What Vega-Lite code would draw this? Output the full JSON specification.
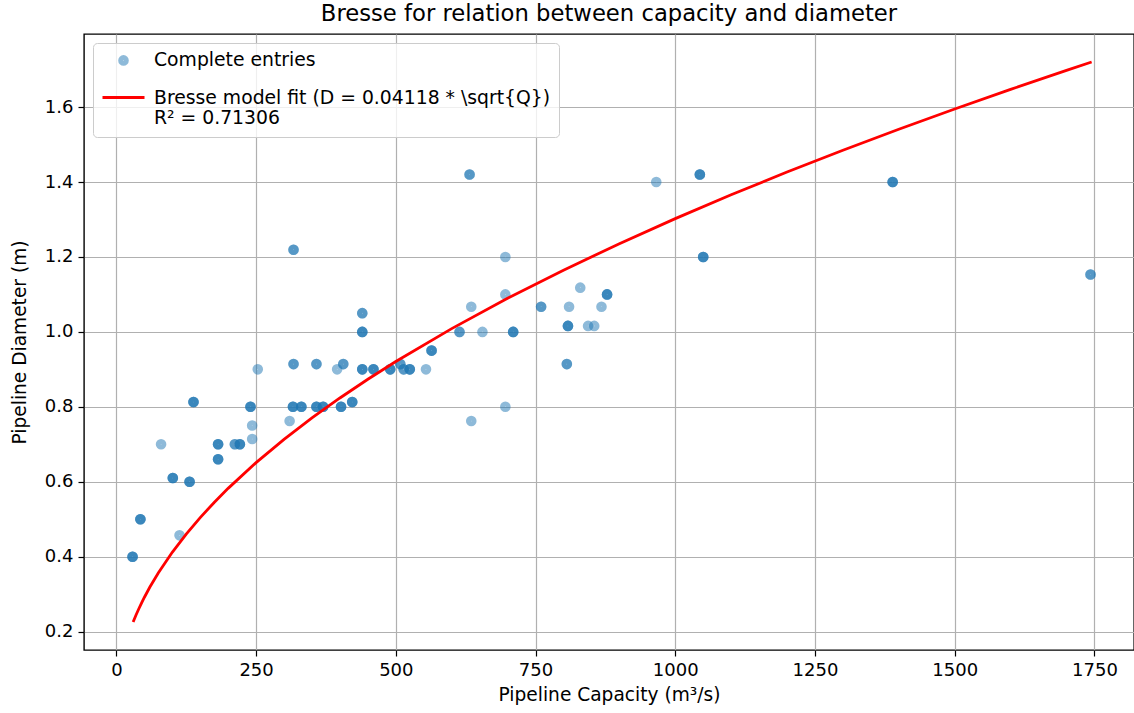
{
  "$schema": "https://vega.github.io/schema/vega-lite/v6.json",
  "width": 1050,
  "height": 616,
  "autosize": {"type": "none"},
  "padding": {"left": 84, "top": 34, "right": 0, "bottom": 63},
  "background": "white",
  "title": {"text": "Bresse for relation between capacity and diameter", "fontSize": 22.7, "font": "DejaVu Sans", "fontWeight": "normal", "color": "black", "offset": 8, "anchor": "middle"},
  "config": {
    "font": "DejaVu Sans",
    "view": {"stroke": "black", "strokeWidth": 1.4},
    "axis": {"grid": true, "gridColor": "#b0b0b0", "gridWidth": 1.2, "domain": false, "tickColor": "black", "tickSize": 6, "tickWidth": 1.2, "labelFontSize": 18, "labelColor": "black", "labelPadding": 5, "titleFontSize": 18.6, "titleFontWeight": "normal", "titleColor": "black", "labelFont": "DejaVu Sans", "titleFont": "DejaVu Sans"},
    "legend": {"title": null, "orient": "top-left", "offset": 9, "padding": 8, "rowPadding": -7, "labelFontSize": 18.8, "labelColor": "black", "labelFont": "DejaVu Sans", "labelLimit": 800, "labelOffset": 8, "fillColor": "rgba(255,255,255,0.8)", "strokeColor": "#cccccc", "cornerRadius": 4}
  },
  "datasets": {
    "points": [
      {"q":29,"d":0.40},{"q":29,"d":0.40},{"q":29,"d":0.40},
      {"q":43,"d":0.50},{"q":43,"d":0.50},{"q":43,"d":0.50},
      {"q":80,"d":0.70},
      {"q":101,"d":0.61},{"q":101,"d":0.61},{"q":101,"d":0.61},
      {"q":113,"d":0.457},
      {"q":131,"d":0.60},{"q":131,"d":0.60},{"q":131,"d":0.60},
      {"q":138,"d":0.813},{"q":138,"d":0.813},{"q":138,"d":0.813},
      {"q":182,"d":0.70},{"q":182,"d":0.70},{"q":182,"d":0.70},
      {"q":182,"d":0.66},{"q":182,"d":0.66},{"q":182,"d":0.66},
      {"q":212,"d":0.70},{"q":212,"d":0.70},
      {"q":221,"d":0.70},{"q":221,"d":0.70},{"q":221,"d":0.70},
      {"q":240,"d":0.80},{"q":240,"d":0.80},{"q":240,"d":0.80},
      {"q":243,"d":0.75},
      {"q":243,"d":0.714},
      {"q":253,"d":0.90},
      {"q":310,"d":0.762},
      {"q":317,"d":0.914},{"q":317,"d":0.914},
      {"q":317,"d":1.219},{"q":317,"d":1.219},
      {"q":316,"d":0.80},{"q":316,"d":0.80},{"q":316,"d":0.80},
      {"q":331,"d":0.80},{"q":331,"d":0.80},{"q":331,"d":0.80},
      {"q":358,"d":0.914},{"q":358,"d":0.914},
      {"q":358,"d":0.80},{"q":358,"d":0.80},{"q":358,"d":0.80},
      {"q":370,"d":0.80},{"q":370,"d":0.80},{"q":370,"d":0.80},
      {"q":395,"d":0.90},
      {"q":402,"d":0.80},{"q":402,"d":0.80},{"q":402,"d":0.80},
      {"q":406,"d":0.914},{"q":406,"d":0.914},
      {"q":422,"d":0.813},{"q":422,"d":0.813},{"q":422,"d":0.813},
      {"q":440,"d":1.05},{"q":440,"d":1.05},
      {"q":440,"d":1.0},{"q":440,"d":1.0},{"q":440,"d":1.0},
      {"q":440,"d":0.90},{"q":440,"d":0.90},{"q":440,"d":0.90},
      {"q":460,"d":0.90},{"q":460,"d":0.90},{"q":460,"d":0.90},
      {"q":490,"d":0.90},{"q":490,"d":0.90},{"q":490,"d":0.90},
      {"q":508,"d":0.914},{"q":508,"d":0.914},
      {"q":514,"d":0.90},{"q":514,"d":0.90},
      {"q":525,"d":0.90},{"q":525,"d":0.90},{"q":525,"d":0.90},
      {"q":554,"d":0.90},
      {"q":564,"d":0.95},{"q":564,"d":0.95},{"q":564,"d":0.95},
      {"q":614,"d":1.0},{"q":614,"d":1.0},
      {"q":632,"d":1.42},{"q":632,"d":1.42},
      {"q":635,"d":1.067},
      {"q":635,"d":0.762},
      {"q":655,"d":1.0},
      {"q":696,"d":1.20},
      {"q":696,"d":1.10},
      {"q":696,"d":0.80},
      {"q":710,"d":1.0},{"q":710,"d":1.0},{"q":710,"d":1.0},
      {"q":760,"d":1.067},{"q":760,"d":1.067},
      {"q":808,"d":1.016},{"q":808,"d":1.016},{"q":808,"d":1.016},
      {"q":810,"d":1.067},
      {"q":806,"d":0.914},{"q":806,"d":0.914},
      {"q":830,"d":1.118},
      {"q":844,"d":1.016},
      {"q":855,"d":1.016},
      {"q":868,"d":1.067},
      {"q":878,"d":1.10},{"q":878,"d":1.10},{"q":878,"d":1.10},
      {"q":966,"d":1.40},
      {"q":1044,"d":1.42},{"q":1044,"d":1.42},{"q":1044,"d":1.42},
      {"q":1050,"d":1.20},{"q":1050,"d":1.20},{"q":1050,"d":1.20},
      {"q":1389,"d":1.40},{"q":1389,"d":1.40},{"q":1389,"d":1.40},
      {"q":1743,"d":1.153},{"q":1743,"d":1.153}
    ],
    "curve": [
      {"q":30,"d":0.2256},{"q":35,"d":0.2436},{"q":40,"d":0.2604},{"q":45,"d":0.2762},
      {"q":50,"d":0.2912},{"q":60,"d":0.3190},{"q":75,"d":0.3566},{"q":100,"d":0.4118},
      {"q":125,"d":0.4604},{"q":150,"d":0.5043},{"q":175,"d":0.5448},{"q":200,"d":0.5824},
      {"q":250,"d":0.6511},{"q":300,"d":0.7133},{"q":350,"d":0.7704},{"q":400,"d":0.8236},
      {"q":450,"d":0.8736},{"q":500,"d":0.9208},{"q":600,"d":1.0087},{"q":700,"d":1.0895},
      {"q":800,"d":1.1647},{"q":900,"d":1.2354},{"q":1000,"d":1.3022},{"q":1100,"d":1.3658},
      {"q":1200,"d":1.4265},{"q":1300,"d":1.4848},{"q":1400,"d":1.5408},{"q":1500,"d":1.5949},
      {"q":1600,"d":1.6472},{"q":1700,"d":1.6979},{"q":1745,"d":1.7202}
    ]
  },
  "encoding": {
    "x": {"field": "q", "type": "quantitative", "scale": {"domain": [-57.9, 1820.8], "nice": false, "zero": false}, "axis": {"values": [0, 250, 500, 750, 1000, 1250, 1500, 1750], "format": "d", "title": "Pipeline Capacity (m³/s)", "titlePadding": 6}},
    "y": {"field": "d", "type": "quantitative", "scale": {"domain": [0.151, 1.795], "nice": false, "zero": false}, "axis": {"values": [0.2, 0.4, 0.6, 0.8, 1.0, 1.2, 1.4, 1.6], "format": ".1f", "title": "Pipeline Diameter (m)", "titlePadding": 15}}
  },
  "layer": [
    {
      "data": {"name": "points"},
      "mark": {"type": "point", "filled": false},
      "encoding": {
        "color": {
          "datum": "Complete entries", "type": "nominal",
          "scale": {"domain": ["Complete entries", "Bresse model fit (D = 0.04118 * \\sqrt{Q})\nR² = 0.71306"], "range": ["#1f77b4", "#ff0000"]},
          "legend": {"labelExpr": "split(datum.label, '\\n')"}
        },
        "shape": {
          "datum": "Complete entries", "type": "nominal",
          "scale": {"domain": ["Complete entries", "Bresse model fit (D = 0.04118 * \\sqrt{Q})\nR² = 0.71306"], "range": ["circle", "stroke"]},
          "legend": {"labelExpr": "split(datum.label, '\\n')"}
        },
        "size": {
          "datum": "Complete entries", "type": "nominal",
          "scale": {"domain": ["Complete entries", "Bresse model fit (D = 0.04118 * \\sqrt{Q})\nR² = 0.71306"], "range": [25, 1764]},
          "legend": {"labelExpr": "split(datum.label, '\\n')"}
        },
        "strokeWidth": {
          "datum": "Complete entries", "type": "nominal",
          "scale": {"domain": ["Complete entries", "Bresse model fit (D = 0.04118 * \\sqrt{Q})\nR² = 0.71306"], "range": [5.6, 2.8]},
          "legend": {"labelExpr": "split(datum.label, '\\n')"}
        },
        "opacity": {
          "datum": "Complete entries", "type": "nominal",
          "scale": {"domain": ["Complete entries", "Bresse model fit (D = 0.04118 * \\sqrt{Q})\nR² = 0.71306"], "range": [0.5, 1]},
          "legend": {"labelExpr": "split(datum.label, '\\n')"}
        }
      }
    },
    {
      "data": {"name": "curve"},
      "mark": {"type": "line"},
      "encoding": {
        "color": {"datum": "Bresse model fit (D = 0.04118 * \\sqrt{Q})\nR² = 0.71306", "type": "nominal"},
        "strokeWidth": {"datum": "Bresse model fit (D = 0.04118 * \\sqrt{Q})\nR² = 0.71306", "type": "nominal"},
        "opacity": {"datum": "Bresse model fit (D = 0.04118 * \\sqrt{Q})\nR² = 0.71306", "type": "nominal"}
      }
    }
  ]
}
